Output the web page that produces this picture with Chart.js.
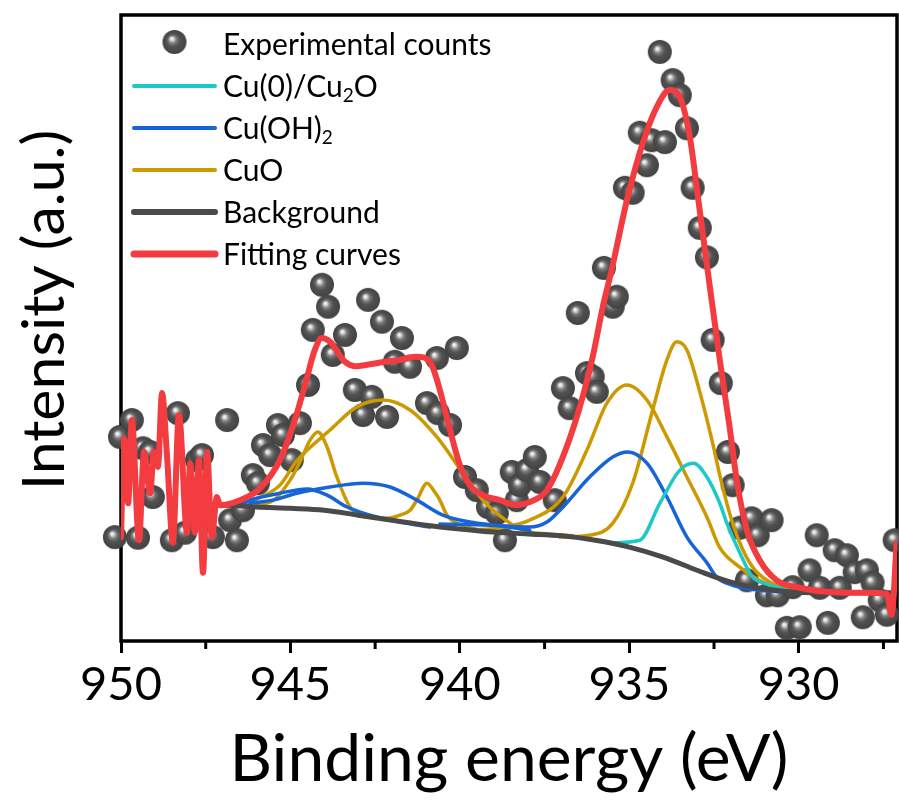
<!DOCTYPE html>
<html lang="en">
<head>
<meta charset="UTF-8" />
<title>Cu 2p XPS fit</title>
<script src="https://cdn.jsdelivr.net/npm/chart.js"></script>
<style>
  body { margin: 0; background: #fff; }
</style>
</head>
<body>
<canvas id="xpsChart" width="899" height="800"></canvas>

<script>
// ---- data (binding energy in eV, intensity in a.u.) ----
const expEnergy = [
  950.18, 950.03, 949.68, 949.50, 949.35, 949.14, 949.06, 948.50, 948.32, 948.11,
  947.76, 947.61, 947.29, 946.87, 946.78, 946.58, 946.40, 946.11, 945.96, 945.81,
  945.60, 945.37, 945.22, 944.96, 944.72, 944.48, 944.34, 944.07, 943.89, 943.75,
  943.39, 943.10, 942.86, 942.71, 942.60, 942.30, 942.15, 941.92, 941.71, 941.47,
  940.97, 940.68, 940.65, 940.29, 940.09, 939.85, 939.50, 939.17, 938.91, 938.67,
  938.47, 938.32, 938.23, 938.02, 937.79, 937.64, 937.20, 936.96, 936.76, 936.52,
  936.25, 936.08, 935.96, 935.75, 935.49, 935.37, 935.13, 934.90, 934.69, 934.48,
  934.34, 934.10, 933.95, 933.72, 933.51, 933.30, 933.13, 932.92, 932.71, 932.54,
  932.30, 932.09, 931.95, 931.74, 931.53, 931.39, 931.21, 930.94, 930.80, 930.62,
  930.35, 930.18, 929.97, 929.68, 929.47, 929.38, 929.14, 928.94, 928.79, 928.58,
  928.35, 928.11, 927.99, 927.82, 927.61, 927.40, 927.17
];
const expCounts = [
  16.6, 32.6, 35.3, 16.5, 30.8, 30.2, 23.0, 16.1, 36.4, 17.3,
  28.9, 29.7, 16.6, 35.3, 19.3, 16.1, 20.9, 26.5, 25.2, 31.3,
  29.7, 34.5, 32.9, 28.9, 34.8, 40.9, 49.7, 56.9, 53.4, 45.7,
  48.9, 40.1, 36.1, 54.5, 39.0, 51.0, 35.8, 44.6, 48.4, 43.8,
  38.0, 45.2, 36.4, 34.5, 46.8, 26.2, 24.1, 21.4, 20.4, 16.1,
  27.0, 22.5, 24.9, 27.3, 29.4, 25.4, 22.5, 40.4, 37.2, 52.4,
  42.8, 42.2, 39.8, 59.6, 53.4, 55.0, 72.4, 71.6, 81.2, 76.0,
  80.0, 94.1, 79.7, 89.6, 87.2, 81.9, 72.4, 66.0, 61.3, 48.1,
  41.2, 30.2, 24.9, 18.1, 9.7, 19.6, 16.9, 7.3, 19.3, 7.3,
  2.1, 8.6, 2.2, 11.3, 16.9, 8.5, 2.9, 14.5, 8.5, 13.7,
  11.0, 3.8, 11.3, 9.3, 6.5, 4.2, 16.1
];

const fitEnergy = [
  950.00, 949.91, 949.79, 949.68, 949.47, 949.32, 949.14, 949.03, 948.91, 948.79,
  948.64, 948.47, 948.29, 948.05, 947.96, 947.82, 947.70, 947.58, 947.46, 947.32,
  947.17, 947.08, 946.49, 945.90, 945.31, 944.87, 944.57, 944.28, 944.07, 943.83,
  943.39, 943.10, 942.65, 942.21, 941.77, 941.33, 941.03, 940.83, 940.59, 940.29,
  940.00, 939.71, 939.32, 938.82, 938.32, 937.94, 937.43, 936.96, 936.46, 936.08,
  935.78, 935.52, 935.07, 934.60, 934.19, 933.81, 933.51, 933.21, 932.98, 932.71,
  932.33, 932.04, 931.83, 931.53, 931.15, 930.65, 929.97, 928.99, 927.99, 927.40,
  927.26, 927.11
];
const fitIntensity = [
  16.6, 32.4, 22.0, 35.3, 16.1, 30.2, 23.6, 30.2, 27.8, 39.6,
  29.4, 15.7, 36.1, 17.3, 28.4, 17.3, 28.9, 10.9, 30.2, 16.6,
  23.0, 21.7, 22.5, 24.4, 28.9, 35.3, 40.9, 46.5, 48.4, 47.8,
  44.6, 43.9, 44.2, 44.6, 44.9, 45.4, 45.2, 44.1, 40.1, 33.7,
  28.1, 24.9, 23.3, 22.5, 21.7, 22.2, 24.1, 29.4, 37.4, 45.4,
  53.4, 59.3, 70.4, 79.6, 85.3, 88.0, 86.9, 80.4, 71.2, 60.1,
  44.9, 34.2, 25.7, 17.7, 12.9, 9.7, 8.5, 7.8, 7.7, 7.5,
  4.2, 15.7
];

const bgEnergy = [947.1, 946.5, 946, 945, 944, 943, 942, 941, 940, 939, 938, 937, 936, 935, 934, 933, 932, 931, 930, 928.5, 927.1];
const bgIntensity = [21.7, 21.6, 21.4, 21.2, 20.9, 20.1, 19.3, 18.5, 17.9, 17.4, 17.1, 16.8, 16.1, 15.0, 13.4, 11.3, 9.4, 8.3, 7.8, 7.7, 7.7];

// Cu(0)/Cu2O
const cu0Energy = [935.87, 935.49, 934.69, 934.10, 933.51, 933.10, 932.71, 932.33, 932.12, 931.74, 931.36, 930.94, 930.27];
const cu0Intensity = [16.0, 15.7, 16.1, 22.0, 27.3, 28.4, 26.2, 22.0, 18.8, 14.1, 10.2, 9.1, 8.0];

// Cu(OH)2 (main line + two satellites)
const cuohMainEnergy = [940.59, 939.12, 937.94, 937.43, 936.96, 936.17, 935.49, 935.04, 934.48, 933.89, 933.30, 932.71, 932.42, 931.95, 931.15, 930.27];
const cuohMainIntensity = [18.7, 18.5, 18.2, 19.0, 21.4, 26.2, 29.4, 30.2, 28.4, 23.0, 16.6, 12.5, 10.2, 8.9, 8.1, 7.8];
const cuohSat1Energy = [946.49, 946.19, 945.31, 944.51, 943.92, 943.33, 942.65, 941.77, 940.88];
const cuohSat1Intensity = [21.7, 22.5, 23.6, 24.3, 23.3, 21.4, 20.1, 19.0, 18.2];
const cuohSat2Energy = [946.19, 945.52, 944.81, 943.83, 942.86, 942.06, 941.27, 940.50, 939.71, 938.82, 937.94];
const cuohSat2Intensity = [22.0, 22.5, 23.6, 24.6, 25.2, 24.6, 22.5, 20.1, 19.0, 18.4, 17.7];

// CuO (two main lines + satellites)
const cuoMain1Energy = [939.71, 938.82, 937.94, 936.96, 936.25, 935.66, 935.07, 934.48, 933.89, 933.30, 932.71, 932.33, 931.74, 930.94, 930.27];
const cuoMain1Intensity = [17.7, 18.1, 19.3, 23.0, 30.5, 38.0, 40.9, 38.5, 32.6, 26.2, 19.8, 14.9, 11.8, 9.1, 8.0];
const cuoMain2Energy = [937.05, 936.17, 935.49, 934.90, 934.31, 933.89, 933.60, 933.30, 932.92, 932.54, 932.33, 932.04, 931.74, 931.36, 930.94, 930.47, 929.97];
const cuoMain2Intensity = [16.6, 16.9, 18.8, 25.2, 36.9, 44.9, 47.8, 46.5, 39.8, 31.6, 26.5, 20.4, 15.7, 11.8, 9.7, 8.6, 8.0];
const cuoSatNarrowEnergy = [946.19, 945.52, 945.01, 944.72, 944.42, 944.19, 943.92, 943.63, 943.24, 942.86, 942.15, 941.77, 941.47, 941.27, 940.97, 940.74, 940.59, 940.38, 940.09, 939.71, 939.12];
const cuoSatNarrowIntensity = [21.6, 22.4, 25.7, 28.6, 32.1, 33.4, 31.0, 26.2, 21.4, 20.1, 19.6, 20.1, 20.9, 22.5, 25.2, 23.8, 22.5, 20.1, 18.8, 18.1, 17.4];
const cuoSatBroadEnergy = [946.49, 945.99, 945.31, 944.81, 943.83, 943.04, 942.27, 941.47, 940.68, 939.91, 939.32, 938.91, 938.14, 937.35, 936.67];
const cuoSatBroadIntensity = [21.7, 22.7, 24.9, 28.8, 33.7, 37.4, 38.5, 36.9, 32.6, 26.8, 22.5, 20.4, 17.7, 17.1, 16.8];

const xTicks = [950, 945, 940, 935, 930];
const xMinorTicks = [947.5, 942.5, 937.5, 932.5, 927.5];
const xTitle = 'Binding energy (eV)';
const yTitle = 'Intensity (a.u.)';
const legendLabels = ['Experimental counts', 'Cu(0)/Cu₂O', 'Cu(OH)₂', 'CuO', 'Background', 'Fitting curves'];

// ---- styles ----
const FONT = 'Lato';
const colCu0 = '#1fc8c8';
const colCuOH = '#1664d8';
const colCuO = '#cc9900';
const colBg = '#4a4a4a';
const colFit = '#f23c3f';

function pts(xs, ys) {
  return xs.map((x, i) => ({ x: x, y: ys[i] }));
}

// shaded grey sphere used as point marker
function makeBall(r) {
  const c = document.createElement('canvas');
  c.width = c.height = r * 2 + 2;
  const g = c.getContext('2d');
  const cx = r + 1, cy = r + 1;
  const grad = g.createRadialGradient(cx - r * 0.25, cy - r * 0.3, 0, cx, cy, r);
  grad.addColorStop(0, '#ffffff');
  grad.addColorStop(0.12, '#e2e2e2');
  grad.addColorStop(0.33, '#7c7c7c');
  grad.addColorStop(0.55, '#525252');
  grad.addColorStop(1, '#424242');
  g.fillStyle = grad;
  g.beginPath();
  g.arc(cx, cy, r, 0, Math.PI * 2);
  g.fill();
  return c;
}
const ball = makeBall(12);

function curve(xs, ys, color, width, order) {
  return {
    data: pts(xs, ys),
    showLine: true,
    borderColor: color,
    borderWidth: width,
    pointRadius: 0,
    cubicInterpolationMode: 'monotone',
    borderCapStyle: 'round',
    borderJoinStyle: 'round',
    order: order
  };
}

const datasets = [
  curve(fitEnergy, fitIntensity, colFit, 6, 1),
  curve(bgEnergy, bgIntensity, colBg, 5, 2),
  curve(cu0Energy, cu0Intensity, colCu0, 3.5, 3),
  curve(cuohMainEnergy, cuohMainIntensity, colCuOH, 3.5, 4),
  curve(cuohSat1Energy, cuohSat1Intensity, colCuOH, 3.5, 4),
  curve(cuohSat2Energy, cuohSat2Intensity, colCuOH, 3.5, 4),
  curve(cuoMain1Energy, cuoMain1Intensity, colCuO, 3.5, 5),
  curve(cuoMain2Energy, cuoMain2Intensity, colCuO, 3.5, 5),
  curve(cuoSatNarrowEnergy, cuoSatNarrowIntensity, colCuO, 3.5, 5),
  curve(cuoSatBroadEnergy, cuoSatBroadIntensity, colCuO, 3.5, 5),
  {
    data: pts(expEnergy, expCounts),
    pointStyle: ball,
    pointRadius: 12,
    showLine: false,
    clip: false,
    order: 10
  }
];

// box around the plot + minor ticks on the bottom axis
const framePlugin = {
  id: 'frame',
  beforeDatasetsDraw(chart) {
    const { ctx, chartArea: a } = chart;
    const xs = chart.scales.x;
    ctx.save();
    ctx.strokeStyle = '#000';
    ctx.lineWidth = 3.5;
    ctx.strokeRect(a.left, a.top, a.right - a.left, a.bottom - a.top);
    ctx.lineWidth = 3;
    xMinorTicks.forEach(v => {
      const px = xs.getPixelForValue(v);
      ctx.beginPath();
      ctx.moveTo(px, a.bottom);
      ctx.lineTo(px, a.bottom + 8);
      ctx.stroke();
    });
    ctx.restore();
  }
};

function drawRich(ctx, text, x, y, size) {
  let cx = x;
  text.split(/(₂)/).forEach(part => {
    if (!part) return;
    if (part === '₂') {
      ctx.font = Math.round(size * 0.62) + 'px ' + FONT;
      ctx.fillText('2', cx, y + size * 0.3);
      cx += ctx.measureText('2').width;
    } else {
      ctx.font = size + 'px ' + FONT;
      ctx.fillText(part, cx, y);
      cx += ctx.measureText(part).width;
    }
  });
}

// legend in the top-left corner of the plot
const legendPlugin = {
  id: 'cornerLegend',
  afterDraw(chart) {
    const { ctx, chartArea: a } = chart;
    const rows = [
      { ball: true },
      { color: colCu0, width: 4 },
      { color: colCuOH, width: 4 },
      { color: colCuO, width: 4 },
      { color: colBg, width: 6 },
      { color: colFit, width: 7 }
    ];
    const x0 = a.left + 13, x1 = a.left + 94, tx = a.left + 102;
    ctx.save();
    ctx.textBaseline = 'middle';
    ctx.fillStyle = '#000';
    rows.forEach((r, i) => {
      const y = a.top + 29 + i * 42;
      if (r.ball) {
        ctx.drawImage(ball, (x0 + x1) / 2 - ball.width / 2, y - 2 - ball.height / 2);
      } else {
        ctx.strokeStyle = r.color;
        ctx.lineWidth = r.width;
        ctx.lineCap = 'round';
        ctx.beginPath();
        ctx.moveTo(x0, y);
        ctx.lineTo(x1, y);
        ctx.stroke();
      }
      ctx.fillStyle = '#000';
      drawRich(ctx, legendLabels[i], tx, y + 1, 30);
    });
    ctx.restore();
  }
};

const yTitlePlugin = {
  id: 'yTitle',
  afterDraw(chart) {
    const { ctx, chartArea: a } = chart;
    ctx.save();
    ctx.translate(45, (a.top + a.bottom) / 2 - 18);
    ctx.rotate(-Math.PI / 2);
    ctx.font = '59px ' + FONT;
    ctx.fillStyle = '#000';
    ctx.textAlign = 'center';
    ctx.textBaseline = 'middle';
    ctx.fillText(yTitle, 0, 0);
    ctx.restore();
  }
};

const chart = new Chart(document.getElementById('xpsChart').getContext('2d'), {
  type: 'scatter',
  data: { datasets: datasets },
  options: {
    responsive: false,
    devicePixelRatio: 1,
    animation: false,
    layout: { autoPadding: false, padding: { top: 15, right: 2, left: 0, bottom: 0 } },
    plugins: { legend: { display: false }, tooltip: { enabled: false } },
    scales: {
      x: {
        type: 'linear',
        reverse: true,
        min: 927.1,
        max: 950,
        afterFit: s => { s.height = 159; s.paddingLeft = 0; s.paddingRight = 0; },
        afterBuildTicks: s => { s.ticks = xTicks.map(v => ({ value: v })); },
        border: { display: false },
        grid: { drawOnChartArea: false, drawTicks: true, tickLength: 12, tickWidth: 3, tickColor: '#000' },
        ticks: { font: { family: FONT, size: 47 }, color: '#000', padding: 4, maxRotation: 0, autoSkip: false },
        title: { display: true, text: xTitle, font: { family: FONT, size: 66 }, color: '#000', padding: { top: 0, bottom: 1 } }
      },
      y: {
        min: 0,
        max: 100,
        afterFit: s => { s.width = 121; },
        border: { display: false },
        grid: { display: false },
        ticks: { display: false }
      }
    }
  },
  plugins: [framePlugin, legendPlugin, yTitlePlugin]
});
</script>
</body>
</html>
